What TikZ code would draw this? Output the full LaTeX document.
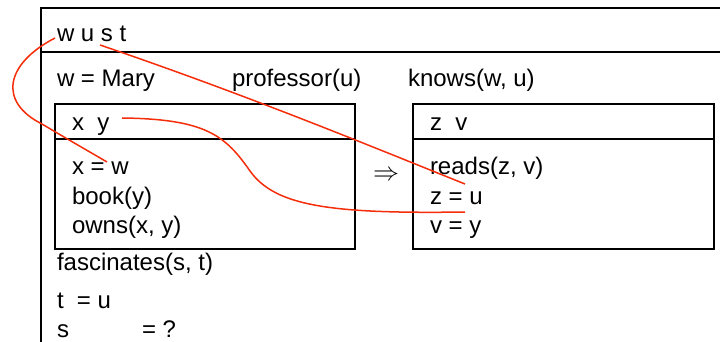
\documentclass[tikz,border=0pt]{standalone}
\usepackage{fontspec}
\setmainfont{Liberation Sans}
\begin{document}
\begin{tikzpicture}[x=1pt,y=-1pt,
  boxline/.style={line width=1.6pt,black},
  txt/.style={anchor=base west,inner sep=0pt,outer sep=0pt,font=\fontsize{24}{29}\selectfont},
  link/.style={line width=1.5pt,draw={rgb,255:red,245;green,45;blue,10}}]
\useasboundingbox (0,0) rectangle (720,342);
% outer box (cropped at right and bottom)
\draw[boxline] (41,342) -- (41,8) -- (720,8);
\draw[boxline] (41,52) -- (720,52);
% header
\node[txt] (hdr) at (57,42) {w u s t};
% conditions
\node[txt] (mary) at (57,87) {w = Mary};
\node[txt] (prof) at (232,87) {professor(u)};
\node[txt] (knows) at (408,87) {knows(w, u)};
% left inner box
\draw[boxline] (55,104) rectangle (355,249);
\draw[boxline] (55,139) -- (355,139);
\node[txt] (xy) at (72,131) {x\ \ y};
\node[txt] (xw) at (72,175) {x = w};
\node[txt] (book) at (72,204) {book(y)};
\node[txt] (owns) at (72,233) {owns(x, y)};
% arrow
\node[inner sep=0pt,scale=2.6] (imp) at (386,176) {$\Rightarrow$};
% right inner box
\draw[boxline] (413,104) rectangle (714,249);
\draw[boxline] (413,139) -- (714,139);
\node[txt] (zv) at (430,131) {z\ \ v};
\node[txt] (reads) at (430,175) {reads(z, v)};
\node[txt] (zu) at (430,204) {z = u};
\node[txt] (vy) at (430,233) {v = y};
% bottom conditions
\node[txt] (fasc) at (57,270) {fascinates(s, t)};
\node[txt] (tu) at (57,308) {t\ \ = u};
\node[txt] (sq) at (57,337) {s\hspace{73pt}= ?};
% link end points
\coordinate (cw) at (55,38);
\coordinate (cs) at (100,45);
\coordinate (cy) at (122,118);
\coordinate (cxw) at (107,162);
\coordinate (creads) at (465,184);
\coordinate (cvy) at (465,212);
% red links
\draw[link] (cw) .. controls (5,64) and (-2,102) .. (42,124)
  .. controls (62,136) and (90,152) .. (cxw);
\draw[link] (cs) .. controls (250,96) and (380,150) .. (creads);
\draw[link] (cy) .. controls (205,119) and (225,135) .. (250,171)
  .. controls (275,206) and (330,214) .. (cvy);
\end{tikzpicture}
\end{document}
